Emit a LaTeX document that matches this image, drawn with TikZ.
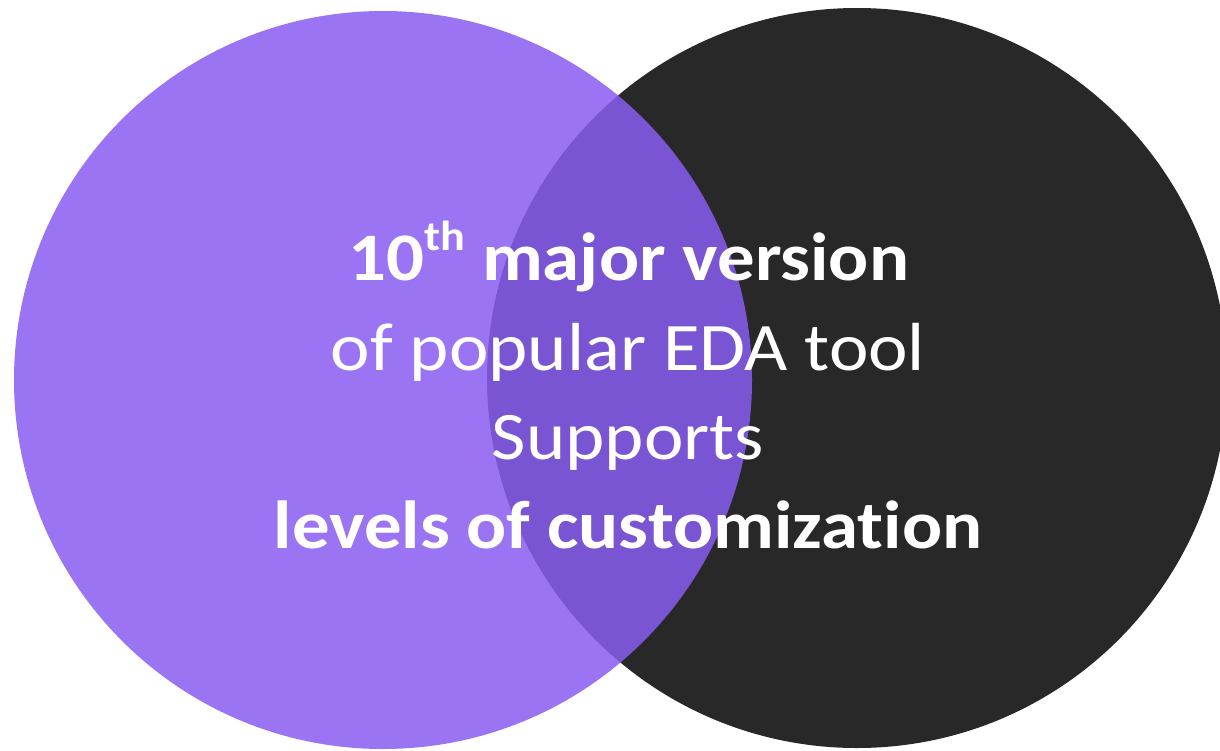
\documentclass[tikz,border=0pt]{standalone}
\usepackage{fontspec}
\setmainfont{Carlito}[Ligatures={NoCommon}]
\definecolor{vpurple}{RGB}{136,92,241}
\definecolor{vdark}{RGB}{40,40,40}
\newcommand{\wide}[1]{\scalebox{1.1}[1]{#1}}
\tikzset{
  vline/.style={text=white, anchor=base, inner sep=0pt, font=\fontsize{68}{82}\selectfont},
  vbold/.style={vline, font=\fontsize{68}{82}\selectfont\bfseries}
}
\begin{document}
\begin{tikzpicture}[x=1pt,y=-1pt]
\useasboundingbox (0,0) rectangle (1220,750);
\fill[vdark] (857,378) circle[radius=370];
\fill[vpurple, opacity=0.85] (383,380) circle[radius=369];
\node[vbold] (l1) at (629,280) {\wide{10\raisebox{0.44em}{\fontsize{42}{50}\selectfont th} major version}};
\node[vline] (l2) at (628,370) {\wide{of popular EDA tool}};
\node[vline] (l3) at (628,459) {\wide{Supports}};
\node[vbold] (l4) at (628,548) {\wide{levels of customizat\kern0pt ion}};
\end{tikzpicture}
\end{document}
